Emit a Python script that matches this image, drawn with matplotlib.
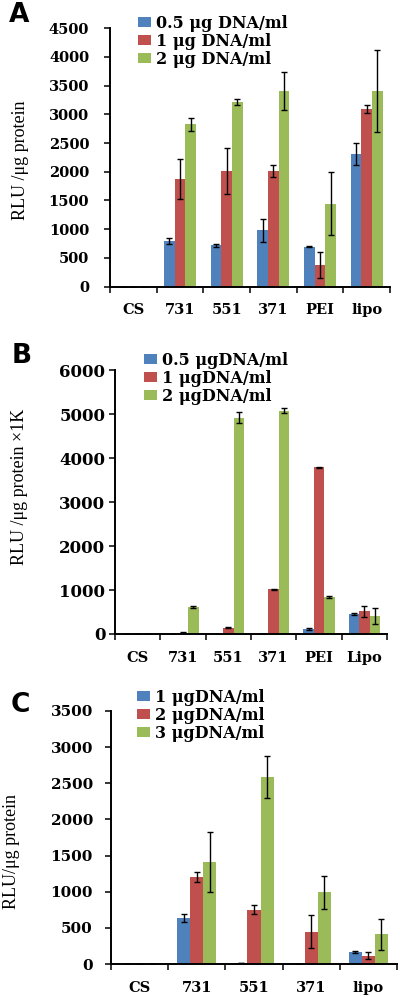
import matplotlib
matplotlib.use("Agg")
import matplotlib.pyplot as plt
import numpy as np

# ---------------- data ----------------
cats_a = ["CS", "731", "551", "371", "PEI", "lipo"]
labels_a = ["0.5 μg DNA/ml", "1 μg DNA/ml", "2 μg DNA/ml"]
a_s1 = [0, 790, 720, 980, 695, 2310]
a_s2 = [0, 1870, 2010, 2010, 380, 3095]
a_s3 = [0, 2830, 3210, 3410, 1445, 3400]
a_e1 = [0, 55, 29, 200, 8, 198]
a_e2 = [0, 348, 403, 107, 227, 65]
a_e3 = [0, 113, 50, 335, 545, 715]
ticks_a = [0, 500, 1000, 1500, 2000, 2500, 3000, 3500, 4000, 4500]

cats_b = ["CS", "731", "551", "371", "PEI", "Lipo"]
labels_b = ["0.5 μgDNA/ml", "1 μgDNA/ml", "2 μgDNA/ml"]
b_s1 = [0, 0, 0, 0, 105, 447]
b_s2 = [0, 30, 144, 1016, 3793, 516]
b_s3 = [0, 607, 4921, 5081, 850, 410]
b_e1 = [0, 0, 0, 0, 22, 25]
b_e2 = [0, 5, 8, 8, 15, 120]
b_e3 = [0, 20, 125, 57, 20, 175]
ticks_b = [0, 1000, 2000, 3000, 4000, 5000, 6000]

cats_c = ["CS", "731", "551", "371", "lipo"]
labels_c = ["1 μgDNA/ml", "2 μgDNA/ml", "3 μgDNA/ml"]
c_s1 = [0, 636, 14, 0, 166]
c_s2 = [0, 1203, 752, 447, 115]
c_s3 = [0, 1416, 2587, 991, 410]
c_e1 = [0, 60, 0, 0, 15]
c_e2 = [0, 65, 65, 225, 50]
c_e3 = [0, 415, 290, 233, 210]
ticks_c = [0, 500, 1000, 1500, 2000, 2500, 3000, 3500]

colors = ["#4F81BD", "#C0504D", "#9BBB59"]

W, H = 400, 997
fig = plt.figure(figsize=(W / 100, H / 100), dpi=100)

TICKFONT = dict(family="DejaVu Serif", weight="bold")


def px_rect(left, right, top, bottom):
    return [left / W, 1 - bottom / H, (right - left) / W, (bottom - top) / H]


def panel(rect, cats, series, errs, labels, yticks, ylabel, ylab_xy,
          letter, letter_xy, leg_xy, ytick_size, ytick_pad, xtick_size,
          leg_size):
    ax = fig.add_axes(rect)
    x = np.arange(len(cats))
    bw = 0.228
    handles = []
    for i, (vals, er) in enumerate(zip(series, errs)):
        b = ax.bar(x + (i - 1) * bw, vals, bw, color=colors[i], label=labels[i],
                   yerr=er, error_kw=dict(ecolor="black", elinewidth=1.0,
                                          capsize=2.3, capthick=1.0))
        handles.append(b)
    ax.set_xlim(-0.5, len(cats) - 0.5)
    ax.set_ylim(0, yticks[-1])
    ax.set_yticks(yticks)
    ax.set_yticklabels([str(t) for t in yticks], fontsize=ytick_size, **TICKFONT)
    ax.set_xticks(x)
    ax.set_xticklabels(cats, fontsize=xtick_size, **TICKFONT)
    ax.set_xticks(np.arange(len(cats) + 1) - 0.5, minor=True)
    ax.tick_params(axis="x", which="major", length=0, pad=12)
    ax.tick_params(axis="x", which="minor", length=4, width=1.1, direction="out")
    ax.tick_params(axis="y", which="major", length=4, width=1.1, direction="out",
                   pad=ytick_pad)
    for s in ["top", "right"]:
        ax.spines[s].set_visible(False)
    for s in ["left", "bottom"]:
        ax.spines[s].set_linewidth(1.4)
    ax.set_ylabel(ylabel, family="Liberation Serif", fontsize=13)
    ax.yaxis.set_label_coords(ylab_xy[0] / W, 1 - ylab_xy[1] / H,
                              transform=fig.transFigure)
    ax.yaxis.label.set_va("center")
    fig.text(letter_xy[0] / W, 1 - letter_xy[1] / H, letter, ha="center",
             va="center", family="DejaVu Sans", weight="bold", fontsize=19)
    ax.legend(handles=handles, loc="upper left",
              bbox_to_anchor=(leg_xy[0] / W, 1 - leg_xy[1] / H),
              bbox_transform=fig.transFigure, frameon=False,
              prop=dict(family="DejaVu Serif", weight="bold", size=leg_size),
              handlelength=0.8, handleheight=0.6, handletextpad=0.35,
              labelspacing=0.06, borderpad=0, borderaxespad=0)
    return ax


panel(px_rect(110, 390, 28.3, 286.6), cats_a, [a_s1, a_s2, a_s3],
      [a_e1, a_e2, a_e3], labels_a, ticks_a, "RLU /μg protein", (21, 160),
      "A", (19.5, 14.5), (138, 15), 10.5, 11, 10.5, 11.5)

panel(px_rect(115, 387, 370.3, 634), cats_b, [b_s1, b_s2, b_s3],
      [b_e1, b_e2, b_e3], labels_b, ticks_b, "RLU /μg protein ×1K", (20, 487),
      "B", (21.5, 356), (144, 352), 12, 3, 10.5, 11.5)

panel(px_rect(111, 397, 711, 964), cats_c, [c_s1, c_s2, c_s3],
      [c_e1, c_e2, c_e3], labels_c, ticks_c, "RLU/μg protein", (12, 851),
      "C", (20, 705), (137, 689), 11, 9, 10.5, 11.5)

fig.savefig("out.png", dpi=100)
